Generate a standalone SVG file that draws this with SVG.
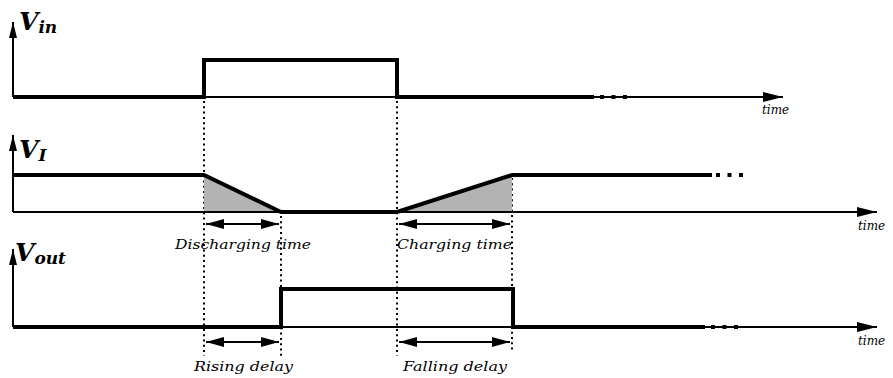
<svg xmlns="http://www.w3.org/2000/svg" width="893" height="378" viewBox="0 0 893 378">
<style>
.axis{stroke:#000;stroke-width:2;fill:none}
.sig{stroke:#000;stroke-width:4;fill:none;stroke-linejoin:miter}
.dots{stroke:#000;stroke-width:4;fill:none;stroke-dasharray:4 7.5}
.dotv{stroke:#000;stroke-width:2;fill:none;stroke-dasharray:2 3.3}
.fill{fill:#b3b3b3;stroke:none}
.span{stroke:#000;stroke-width:2;fill:none}
.big{font-family:"DejaVu Serif","Liberation Serif",serif;font-style:italic;font-weight:bold;fill:#000}
.lbl{font-family:"DejaVu Serif","Liberation Serif",serif;font-style:italic;font-size:12px;fill:#000}
</style>
<defs>
<marker id="ax" viewBox="0 0 20 10" refX="20" refY="5" markerWidth="20" markerHeight="10" markerUnits="userSpaceOnUse" orient="auto">
<path d="M0,0 L20,5 L0,10 Z" fill="#000"/>
</marker>
<marker id="axv" viewBox="0 0 16 8" refX="16" refY="4" markerWidth="16" markerHeight="8" markerUnits="userSpaceOnUse" orient="auto">
<path d="M0,0 L16,4 L0,8 Z" fill="#000"/>
</marker>
<marker id="ah" viewBox="0 0 18 10" refX="18" refY="5" markerWidth="18" markerHeight="10" markerUnits="userSpaceOnUse" orient="auto-start-reverse">
<path d="M0,0 L18,5 L0,10 Z" fill="#000"/>
</marker>
</defs>

<g id="guides">
<line class="dotv" x1="204" y1="101" x2="204" y2="356"/>
<line class="dotv" x1="281" y1="216" x2="281" y2="358"/>
<line class="dotv" x1="397" y1="101" x2="397" y2="356"/>
<line class="dotv" x1="512" y1="178" x2="512" y2="352"/>
</g>

<g id="vin">
<line class="axis" x1="13" y1="97" x2="13" y2="22" marker-end="url(#axv)"/>
<line class="axis" x1="13" y1="97" x2="783" y2="97" marker-end="url(#ax)"/>
<polyline class="sig" points="13,97 204,97 204,60 397,60 397,97 594,97"/>
<line class="dots" x1="600" y1="97" x2="628" y2="97"/>
<text class="big" x="19" y="30" font-size="25">V<tspan font-size="17" dy="3">in</tspan></text>
<text class="lbl" x="762" y="114">time</text>
</g>

<g id="vi">
<polygon class="fill" points="204,175 281,212 204,212"/>
<polygon class="fill" points="397,212 512,175 512,212"/>
<line class="axis" x1="13" y1="212" x2="13" y2="135" marker-end="url(#axv)"/>
<line class="axis" x1="13" y1="212" x2="877" y2="212" marker-end="url(#ax)"/>
<polyline class="sig" points="13,175 204,175 281,212 397,212 512,175 712,175"/>
<line class="dots" x1="716" y1="175" x2="744" y2="175"/>
<text class="big" x="19" y="158" font-size="25">V<tspan font-size="17" dy="3">I</tspan></text>
<text class="lbl" x="858" y="230">time</text>
</g>

<g id="vout">
<line class="axis" x1="13" y1="327" x2="13" y2="249" marker-end="url(#axv)"/>
<line class="axis" x1="13" y1="327" x2="877" y2="327" marker-end="url(#ax)"/>
<polyline class="sig" points="13,327 281,327 281,289 513,289 513,327 705,327"/>
<line class="dots" x1="711" y1="327" x2="739" y2="327"/>
<text class="big" x="15" y="261" font-size="25">V<tspan font-size="17" dy="3">out</tspan></text>
<text class="lbl" x="858" y="345">time</text>
</g>

<g id="connectors">
<line class="span" x1="206" y1="224" x2="279" y2="224" marker-start="url(#ah)" marker-end="url(#ah)"/>
<line class="span" x1="399" y1="224" x2="510" y2="224" marker-start="url(#ah)" marker-end="url(#ah)"/>
<line class="span" x1="206" y1="342" x2="279" y2="342" marker-start="url(#ah)" marker-end="url(#ah)"/>
<line class="span" x1="399" y1="342" x2="510" y2="342" marker-start="url(#ah)" marker-end="url(#ah)"/>
</g>

<g id="labels">
<text class="lbl" x="175" y="249" textLength="136" lengthAdjust="spacingAndGlyphs">Discharging time</text>
<text class="lbl" x="397" y="249" textLength="115" lengthAdjust="spacingAndGlyphs">Charging time</text>
<text class="lbl" x="194" y="371" textLength="99" lengthAdjust="spacingAndGlyphs">Rising delay</text>
<text class="lbl" x="403" y="371" textLength="104" lengthAdjust="spacingAndGlyphs">Falling delay</text>
</g>
</svg>
